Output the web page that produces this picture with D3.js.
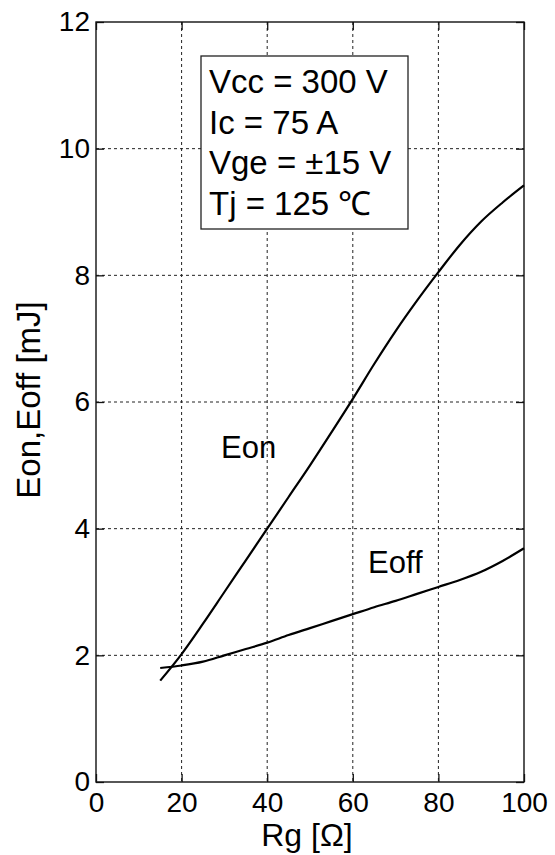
<!DOCTYPE html>
<html>
<head>
<meta charset="utf-8">
<script src="https://cdn.jsdelivr.net/npm/d3@7"></script>
<style>
  body { margin: 0; background: #fff; }
  text { font-family: Arial, "Liberation Sans", sans-serif; fill: #000; }
</style>
</head>
<body>
<div id="chart"></div>
<script>
// Rg in ohm
var rg = [15, 20, 25, 30, 35, 40, 45, 50, 55, 60, 65, 70, 75, 80, 85, 90, 95, 100];
// switching energy in mJ
var eon = [1.6, 2.02, 2.5, 3.0, 3.5, 4.0, 4.5, 5.0, 5.52, 6.05, 6.6, 7.12, 7.6, 8.05, 8.48, 8.85, 9.15, 9.42];
var eoff = [1.8, 1.84, 1.9, 2.0, 2.1, 2.2, 2.32, 2.43, 2.54, 2.65, 2.76, 2.86, 2.97, 3.08, 3.19, 3.32, 3.49, 3.69];

var xTicks = [0, 20, 40, 60, 80, 100];
var yTicks = [0, 2, 4, 6, 8, 10, 12];
var conditions = ["Vcc = 300 V", "Ic = 75 A", "Vge = \u00b115 V", "Tj = 125 \u2103"];

function init() {
    var w = 555;
    var h = 855;
    var left = 96, right = 524, top = 22, bottom = 782;

    var x = d3.scaleLinear().domain([0, 100]).range([left, right]);
    var y = d3.scaleLinear().domain([0, 12]).range([bottom, top]);

    var svg = d3.select("#chart")
        .append("svg")
        .attr("width", w)
        .attr("height", h);

    // dashed grid
    svg.selectAll(".gx")
        .data(xTicks.slice(1, -1))
        .enter()
        .append("line")
        .attr("x1", d => x(d)).attr("x2", d => x(d))
        .attr("y1", top).attr("y2", bottom)
        .attr("stroke", "#222").attr("stroke-width", 1)
        .attr("stroke-dasharray", "3,3");
    svg.selectAll(".gy")
        .data(yTicks.slice(1, -1))
        .enter()
        .append("line")
        .attr("x1", left).attr("x2", right)
        .attr("y1", d => y(d)).attr("y2", d => y(d))
        .attr("stroke", "#222").attr("stroke-width", 1)
        .attr("stroke-dasharray", "3,3");

    // axes with inward ticks
    var fontPx = 28;
    svg.append("g")
        .attr("transform", "translate(0," + bottom + ")")
        .call(d3.axisBottom(x).tickValues(xTicks).tickSizeInner(-8).tickSizeOuter(0).tickPadding(10));
    svg.append("g")
        .attr("transform", "translate(" + left + ",0)")
        .call(d3.axisLeft(y).tickValues(yTicks).tickSizeInner(-8).tickSizeOuter(0).tickPadding(6));
    svg.append("g")
        .attr("transform", "translate(0," + top + ")")
        .call(d3.axisTop(x).tickValues(xTicks).tickSizeInner(-8).tickSizeOuter(0).tickFormat(""));
    svg.append("g")
        .attr("transform", "translate(" + right + ",0)")
        .call(d3.axisRight(y).tickValues(yTicks).tickSizeInner(-8).tickSizeOuter(0).tickFormat(""));

    svg.selectAll(".domain").attr("stroke", "none");
    svg.selectAll(".tick line").attr("stroke", "#111").attr("stroke-width", 1.3);
    svg.selectAll(".tick text")
        .style("font-size", fontPx + "px")
        .style("font-family", "Arial, 'Liberation Sans', sans-serif")
        .attr("fill", "#000");

    // frame
    svg.append("rect")
        .attr("x", left).attr("y", top)
        .attr("width", right - left).attr("height", bottom - top)
        .attr("fill", "none").attr("stroke", "#111").attr("stroke-width", 1.4);

    // curves
    var line = d3.line()
        .x(d => x(d[0]))
        .y(d => y(d[1]))
        .curve(d3.curveMonotoneX);

    [eon, eoff].forEach(function (s) {
        svg.append("path")
            .datum(rg.map((r, i) => [r, s[i]]))
            .attr("d", line)
            .attr("fill", "none")
            .attr("stroke", "#000")
            .attr("stroke-width", 2.2);
    });

    // curve labels
    svg.append("text").attr("x", 221).attr("y", 458)
        .style("font-size", "31px").text("Eon");
    svg.append("text").attr("x", 368).attr("y", 573)
        .style("font-size", "31px").text("Eoff");

    // conditions box
    svg.append("rect")
        .attr("x", 201).attr("y", 56)
        .attr("width", 207).attr("height", 173)
        .attr("fill", "#fff").attr("stroke", "#222").attr("stroke-width", 1.3);
    svg.selectAll(".cond")
        .data(conditions)
        .enter()
        .append("text")
        .attr("x", 209)
        .attr("y", (d, i) => 93 + i * 40.5)
        .style("font-size", "33px")
        .text(d => d);

    // axis titles
    svg.append("text")
        .attr("x", (left + right) / 2 - 3).attr("y", 846)
        .attr("text-anchor", "middle")
        .style("font-size", "32px")
        .text("Rg [\u03a9]");
    svg.append("text")
        .attr("transform", "translate(40,400) rotate(-90)")
        .attr("text-anchor", "middle")
        .style("font-size", "33px")
        .text("Eon,Eoff [mJ]");
}

window.onload = init;
</script>
</body>
</html>
